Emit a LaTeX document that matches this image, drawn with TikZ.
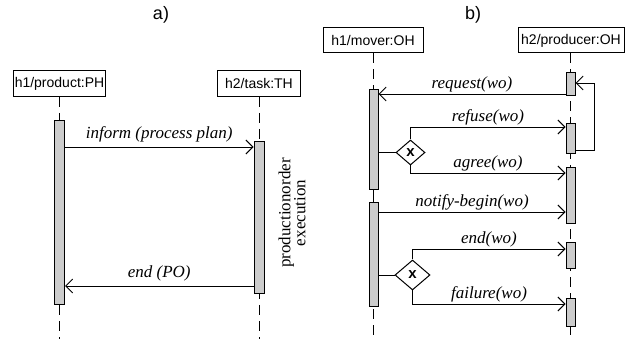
\documentclass[tikz,border=0pt]{standalone}
\usepackage{fontspec}
\setmainfont{Liberation Serif}
\setsansfont{Liberation Sans}
\usetikzlibrary{arrows.meta,shapes.geometric}
\definecolor{barfill}{RGB}{204,204,204}
\begin{document}
\begin{tikzpicture}[x=1pt,y=-1pt,
  obj/.style={draw, line width=1pt, font=\sffamily\fontsize{14}{16}\selectfont, minimum height=26pt, inner sep=0pt},
  life/.style={line width=1pt, dash pattern=on 10pt off 6pt},
  bar/.style={draw, line width=1pt, fill=barfill, inner sep=0pt, minimum width=9pt},
  msg/.style={line width=0.9pt, -{Straight Barb[length=7pt,width=14pt]}},
  plain/.style={line width=0.9pt},
  lbl/.style={font=\itshape\fontsize{17}{19}\selectfont, inner sep=1.5pt},
  gate/.style={draw, diamond, line width=1pt, fill=white, inner sep=0pt},
  gatex/.style={font=\sffamily\bfseries\fontsize{15}{15}\selectfont, inner sep=0pt},
  hdr/.style={font=\sffamily\fontsize{18}{20}\selectfont}]
\useasboundingbox (0,0) rectangle (627,339);

% headings
\node[hdr] (ta) at (161,15) {a)};
\node[hdr] (tb) at (473,15) {b)};

% ---------- part a ----------
\node[obj, minimum width=92pt] (p1) at (59.5,83.5) {h1/product:PH};
\node[obj, minimum width=83pt] (p2) at (259,83.5) {h2/task:TH};
\coordinate (p1e) at (59.5,339);
\coordinate (p2e) at (259,339);
\draw[life] (p1.south) -- (p1e);
\draw[life] (p2.south) -- (p2e);
\node[bar, minimum width=10pt, minimum height=184pt] (a1) at (59.5,213) {};
\node[bar, minimum width=10pt, minimum height=152pt] (a2) at (259,218) {};
\coordinate (ya1) at (0,147);
\coordinate (ya2) at (0,286);
\draw[msg] (a1.east |- ya1) -- node[lbl, above=3pt] (la1) {inform (process plan)} (a2.west |- ya1);
\draw[msg] (a2.west |- ya2) -- node[lbl, above=3pt] (la2) {end (PO)} (a1.east |- ya2);
\node[rotate=90, align=center, font=\fontsize{17}{15}\selectfont, inner sep=0pt] (pe) at (292,213) {productionorder\\execution};

% ---------- part b ----------
\node[obj, minimum width=100pt, minimum height=25pt] (m1) at (373,40.5) {h1/mover:OH};
\node[obj, minimum width=106pt, minimum height=25pt] (m2) at (571,40.5) {h2/producer:OH};
\coordinate (m1e) at (373.5,339);
\coordinate (m2e) at (570.5,339);
\draw[life] (m1.south -| m1e) -- (m1e);
\draw[life] (m2.south -| m2e) -- (m2e);

\node[bar, minimum height=100pt] (b1) at (373.5,140) {};
\node[bar, minimum height=104pt] (b2) at (373.5,255) {};
\draw[line width=1pt] (b1.south) -- (b2.north);

\node[bar, minimum height=23pt] (c1) at (570.5,84.5) {};
\node[bar, minimum height=30pt] (c2) at (570.5,139) {};
\node[bar, minimum height=56pt] (c3) at (570.5,196) {};
\node[bar, minimum height=26pt] (c4) at (570.5,256) {};
\node[bar, minimum height=28pt] (c5) at (570.5,313) {};

\coordinate (y94) at (0,94);
\coordinate (y127) at (0,127);
\coordinate (y173) at (0,173);
\coordinate (y212) at (0,212);
\coordinate (y249) at (0,249);
\coordinate (y304) at (0,304);
\coordinate (y150) at (0,150);
\coordinate (s2) at (594,83);

% request
\draw[msg] (c1.west |- y94) -- node[lbl, above] (lr) {request(wo)} (b1.east |- y94);
% self loop
\draw[msg] (c2.east |- y150) -| (s2) -- (c1.east |- s2);

% first gate
\node[gate, minimum width=29pt, minimum height=25pt] (g1) at (410.5,152.5) {};
\node[gatex] (g1x) at (g1) {x};
\draw[plain] (b1.east |- g1) -- (g1.west);
\draw[msg] (g1.north) |- node[lbl, pos=0.75, above] (lf) {refuse(wo)} (c2.west |- y127);
\draw[msg] (g1.south) |- node[lbl, pos=0.75, above] (lg) {agree(wo)} (c3.west |- y173);

% notify
\draw[msg] (b2.east |- y212) -- node[lbl, above] (ln) {notify-begin(wo)} (c3.west |- y212);

% second gate
\node[gate, minimum width=35pt, minimum height=30pt] (g2) at (412.5,275) {};
\node[gatex] (g2x) at (g2) {x};
\draw[plain] (b2.east |- g2) -- (g2.west);
\draw[msg] (g2.north) |- node[lbl, pos=0.75, above] (le) {end(wo)} (c4.west |- y249);
\draw[msg] (g2.south) |- node[lbl, pos=0.75, above] (lfa) {failure(wo)} (c5.west |- y304);
\end{tikzpicture}
\end{document}
